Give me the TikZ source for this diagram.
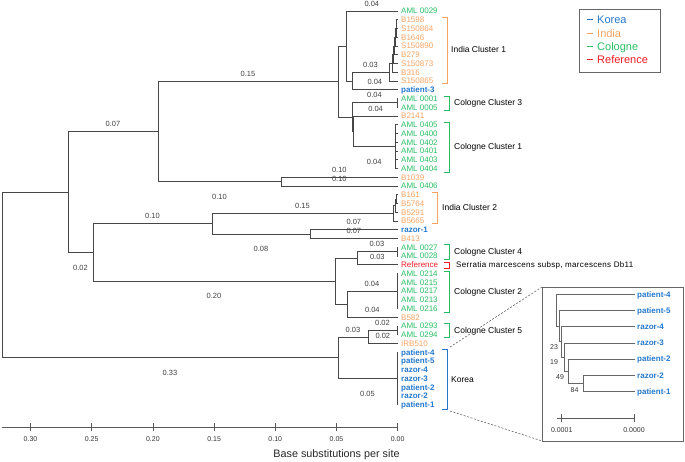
\documentclass[tikz,border=0pt]{standalone}
\usepackage{fontspec}
\setmainfont{Liberation Sans}
\usetikzlibrary{calc}
\definecolor{korea}{RGB}{35,120,205}
\definecolor{india}{RGB}{247,163,98}
\definecolor{cologne}{RGB}{42,190,100}
\definecolor{refred}{RGB}{238,28,37}
\begin{document}
\begin{tikzpicture}[x=1pt,y=-1pt,
  branch/.style={draw=black!72,line width=0.75pt},
  ibranch/.style={draw=black!60,line width=0.7pt},
  tiplab/.style={anchor=west,inner sep=0pt,text height=5.8pt,text depth=0pt,font=\fontsize{8}{9}\selectfont},
  cg/.style={text=cologne},
  ind/.style={text=india},
  ko/.style={text=korea,font=\fontsize{8}{9}\selectfont\bfseries},
  rf/.style={text=refred},
  bl/.style={inner sep=0pt,text height=5.2pt,text depth=0pt,font=\fontsize{7.5}{8}\selectfont,text=black!75},
  up/.style={pos=.75,yshift=7.5pt},
  dn/.style={pos=.75,yshift=-15pt},
  clab/.style={anchor=west,inner sep=0pt,text height=6pt,text depth=0pt,font=\fontsize{8.5}{10}\selectfont},
  brk/.style={line width=0.75pt},
  ticklab/.style={inner sep=0pt,text height=5pt,text depth=0pt,font=\fontsize{7}{8}\selectfont,text=black!80},
  leg/.style={anchor=west,inner sep=0pt,text height=8pt,text depth=0pt,font=\fontsize{11}{12}\selectfont},
  bs/.style={inner sep=0pt,font=\fontsize{7}{8}\selectfont,text=black!80},
]
\useasboundingbox (0,0) rectangle (685,462);

% ---------------- tips ----------------
\foreach \i/\t/\s in {0/AML 0029/cg,1/B1598/ind,2/S150864/ind,3/B1646/ind,4/S150890/ind,
  5/B279/ind,6/S150873/ind,7/B316/ind,8/S150865/ind,9/patient-3/ko,
  10/AML 0001/cg,11/AML 0005/cg,12/B2141/ind,13/AML 0405/cg,14/AML 0400/cg,
  15/AML 0402/cg,16/AML 0401/cg,17/AML 0403/cg,18/AML 0404/cg,19/B1039/ind,
  20/AML 0406/cg,21/B161/ind,22/B5764/ind,23/B5291/ind,24/B5665/ind,
  25/razor-1/ko,26/B413/ind,27/AML 0027/cg,28/AML 0028/cg,29/Reference/rf,
  30/AML 0214/cg,31/AML 0215/cg,32/AML 0217/cg,33/AML 0213/cg,34/AML 0216/cg,
  35/B582/ind,36/AML 0293/cg,37/AML 0294/cg,38/IRB510/ind,39/patient-4/ko,
  40/patient-5/ko,41/razor-4/ko,42/razor-3/ko,43/patient-2/ko,44/razor-2/ko,45/patient-1/ko}{
  \coordinate (t\i) at (397.7,{11+8.75*\i});
  \node[tiplab,\s] (l\i) at (401,{11+8.75*\i}) {\t};
}

% ---------------- internal nodes ----------------
\coordinate (iT) at (396.5,28.5);
\coordinate (iS) at (395.5,37.25);
\coordinate (iR) at (394.5,46);
\coordinate (iQ) at (393.5,54.75);
\coordinate (iP) at (392,63.5);
\coordinate (iN) at (389,72.25);
\coordinate (iM) at (352,81);
\coordinate (iL) at (346,46);
\coordinate (c3) at (397,102.875);
\coordinate (c1) at (395,146.625);
\coordinate (iQp) at (353.5,131.3);
\coordinate (iO) at (352,117.1);
\coordinate (iJ) at (338,81.55);
\coordinate (iK) at (281,181.6);
\coordinate (iD) at (158,131.6);
\coordinate (n1) at (396.5,199.1);
\coordinate (n2) at (395,205.7);
\coordinate (n3) at (393,213.3);
\coordinate (iRB) at (310,234.1);
\coordinate (iC) at (212,223.7);
\coordinate (c4) at (397,251.6);
\coordinate (iH) at (357,258.2);
\coordinate (c2) at (397,291);
\coordinate (iI) at (347,304.1);
\coordinate (iG) at (335,281.2);
\coordinate (iB) at (93,252.4);
\coordinate (iA) at (68,192);
\coordinate (c5) at (397,330.4);
\coordinate (iF) at (368,336.9);
\coordinate (cK) at (397,378.5);
\coordinate (iE) at (338,357.7);
\coordinate (root) at (2,274.9);

% ---------------- branches without labels ----------------
\foreach \p/\c in {iT/t1,iT/t2,iT/t3,iS/iT,iS/t4,iR/iS,iR/t5,iQ/iR,iQ/t6,iP/iQ,iP/t7,
  iN/iP,iN/t8,iJ/iL,iJ/iO,c3/t10,c3/t11,c1/t13,c1/t14,c1/t15,c1/t16,c1/t17,c1/t18,
  iO/iQp,n1/t21,n1/t22,n2/n1,n2/t23,n3/n2,n3/t24,c4/t27,c4/t28,c2/t30,c2/t31,c2/t32,
  c2/t33,c2/t34,iG/iH,iG/iI,c5/t36,c5/t37,cK/t39,cK/t40,cK/t41,cK/t42,cK/t43,cK/t44,
  cK/t45,root/iA}{
  \draw[branch] (\p) |- (\c);
}

% ---------------- branches with length labels ----------------
\draw[branch] (iL) |- node[bl,up] (b1) {0.04} (t0);
\draw[branch] (iL) |- (iM);
\draw[branch] (iD) |- node[bl,up] (b2) {0.15} (iJ);
\draw[branch] (iM) |- node[bl,up] (b3) {0.03} (iN);
\draw[branch] (iM) |- node[bl,up] (b4) {0.04} (t9);
\draw[branch] (iO) |- node[bl,up] (b5) {0.04} (c3);
\draw[branch] (iQp) |- node[bl,up] (b6) {0.04} (t12);
\draw[branch] (iQp) |- node[bl,dn] (b7) {0.04} (c1);
\draw[branch] (iA) |- node[bl,up] (b8) {0.07} (iD);
\draw[branch] (iK) |- node[bl,up] (b9) {0.10} (t19);
\draw[branch] (iK) |- node[bl,up] (b10) {0.10} (t20);
\draw[branch] (iD) |- node[bl,dn] (b11) {0.10} (iK);
\draw[branch] (iB) |- node[bl,up] (b12) {0.10} (iC);
\draw[branch] (iC) |- node[bl,up] (b13) {0.15} (n3);
\draw[branch] (iRB) |- node[bl,up] (b14) {0.07} (t25);
\draw[branch] (iRB) |- node[bl,up] (b15) {0.07} (t26);
\draw[branch] (iC) |- node[bl,dn] (b16) {0.08} (iRB);
\draw[branch] (iA) |- node[bl,dn] (b17) {0.02} (iB);
\draw[branch] (iH) |- node[bl,up] (b18) {0.03} (c4);
\draw[branch] (iH) |- node[bl,up] (b19) {0.03} (t29);
\draw[branch] (iB) |- node[bl,dn] (b20) {0.20} (iG);
\draw[branch] (iI) |- node[bl,up] (b21) {0.04} (c2);
\draw[branch] (iI) |- node[bl,up] (b22) {0.04} (t35);
\draw[branch] (iF) |- node[bl,up] (b23) {0.02} (c5);
\draw[branch] (iF) |- node[bl,up] (b24) {0.02} (t38);
\draw[branch] (iE) |- node[bl,up] (b25) {0.03} (iF);
\draw[branch] (root) |- node[bl,dn] (b26) {0.33} (iE);
\draw[branch] (iE) |- node[bl,dn] (b27) {0.05} (cK);

% ---------------- cluster brackets ----------------
\draw[brk,india] (442,17) -- (447,17) -- (447,83) -- (442,83);
\node[clab] (k1) at (451,50) {India Cluster 1};
\draw[brk,cologne] (444,96) -- (449,96) -- (449,110) -- (444,110);
\node[clab] (k2) at (454,103) {Cologne Cluster 3};
\draw[brk,cologne] (444,122) -- (449,122) -- (449,172) -- (444,172);
\node[clab] (k3) at (454,147) {Cologne Cluster 1};
\draw[brk,india] (432,192) -- (437,192) -- (437,223.5) -- (432,223.5);
\node[clab] (k4) at (442,208) {India Cluster 2};
\draw[brk,cologne] (444,244.5) -- (449,244.5) -- (449,259) -- (444,259);
\node[clab] (k5) at (454,251.7) {Cologne Cluster 4};
\draw[brk,refred] (444,262) -- (449,262) -- (449,268.5) -- (444,268.5);
\node[anchor=west,inner sep=0pt,text height=5.6pt,text depth=0pt,font=\fontsize{8}{9}\selectfont\addfontfeature{LetterSpace=4}] (k6) at (456,265) {Serratia marcescens subsp, marcescens Db11};
\draw[brk,cologne] (444,271) -- (449,271) -- (449,312) -- (444,312);
\node[clab] (k7) at (454,291.5) {Cologne Cluster 2};
\draw[brk,cologne] (444,323.5) -- (449,323.5) -- (449,337.5) -- (444,337.5);
\node[clab] (k8) at (454,330.5) {Cologne Cluster 5};
\coordinate (kT) at (447,349);
\coordinate (kB) at (447,409);
\draw[brk,korea] (442,349) -- (kT) -- (kB) -- (442,409);
\node[clab] (k9) at (451,379) {Korea};

% ---------------- inset ----------------
\coordinate (insNW) at (542,287);
\coordinate (insSW) at (542,441);
\draw[black!60,line width=0.7pt] (insNW) rectangle (683,441);
\draw[black!60,dash pattern=on 2pt off 1.6pt,line width=0.6pt] ($(kT)+(3,-2)$) -- (insNW);
\draw[black!60,dash pattern=on 2pt off 1.6pt,line width=0.6pt] ($(kB)+(3,2)$) -- (insSW);

\foreach \j/\t in {0/patient-4,1/patient-5,2/razor-4,3/razor-3,4/patient-2,5/razor-2,6/patient-1}{
  \coordinate (s\j) at (635,{294.25+16.2*\j});
  \node[tiplab,ko] (sl\j) at (637,{294.25+16.2*\j}) {\t};
}
\coordinate (na) at (583,383.35);
\coordinate (nb) at (568.3,371.2);
\coordinate (nc) at (564.3,357.0);
\coordinate (nd) at (561.7,341.8);
\coordinate (ne) at (559.5,326.1);
\coordinate (nf) at (556.7,310.2);
\foreach \p/\c in {na/s5,na/s6,nb/s4,nb/na,nc/s3,nc/nb,nd/s2,nd/nc,ne/s1,ne/nd,nf/s0,nf/ne}{
  \draw[ibranch] (\p) |- (\c);
}
\node[bs] (bs1) at (574.5,390) {84};
\node[bs] (bs2) at (560,377) {49};
\node[bs] (bs3) at (554,362.5) {19};
\node[bs] (bs4) at (554,347) {23};
\coordinate (sbL) at (556.7,418.3);
\coordinate (sbR) at (634,418.3);
\draw[black!65,line width=0.7pt] (sbL) -- (sbR);
\draw[black!65,line width=0.7pt] (561.7,414.3) -- (561.7,422.3);
\draw[black!65,line width=0.7pt] (634,414.3) -- (634,422.3);
\node[ticklab] (sb1) at (561.7,429.5) {0.0001};
\node[ticklab] (sb2) at (634,429.5) {0.0000};

% ---------------- axis ----------------
\draw[black!65,line width=0.8pt] (1.7,427) -- (397.7,427);
\foreach \k/\lab in {0/0.00,1/0.05,2/0.10,3/0.15,4/0.20,5/0.25,6/0.30}{
  \draw[black!65,line width=0.8pt] ({397.7-61.2*\k},423) -- ({397.7-61.2*\k},431);
  \node[ticklab] (ax\k) at ({397.7-61.2*\k},438.5) {\lab};
}
\node[inner sep=0pt,font=\fontsize{10.8}{12}\selectfont,text=black!85] (axt) at (336.5,455) {Base substitutions per site};

% ---------------- legend ----------------
\draw[black!60,line width=0.7pt] (579,9) rectangle (660,72);
\foreach \j/\t/\c in {0/Korea/korea,1/India/india,2/Cologne/cologne,3/Reference/refred}{
  \draw[\c,line width=1pt] (587,{20+13.3*\j}) -- (593,{20+13.3*\j});
  \node[leg,text=\c] (lg\j) at (597,{20+13.3*\j}) {\t};
}
\end{tikzpicture}
\end{document}
